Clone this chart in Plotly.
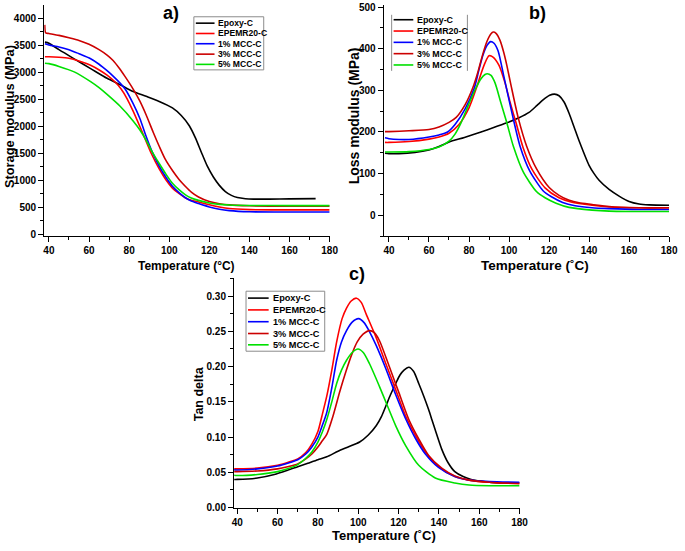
import plotly.graph_objects as go

names = ["Epoxy-C", "EPEMR20-C", "1% MCC-C", "3% MCC-C", "5% MCC-C"]
colors = ["#000000", "#ff0000", "#0000ff", "#cc0000", "#00e000"]

# ---------- Panel a: storage modulus (MPa) ----------
a_epoxy_T = [38, 40, 45, 52.6, 60.8, 69, 75.5, 82, 88.5, 95, 101.6, 106, 110, 113, 116, 119, 122, 125, 128, 131, 134, 138, 142, 150, 160, 173]
a_epoxy_V = [3560, 3540, 3420, 3250, 3070, 2890, 2770, 2645, 2555, 2460, 2340, 2200, 2010, 1790, 1520, 1260, 1060, 905, 790, 720, 680, 658, 650, 650, 655, 660]
a_epemr_T = [38, 40, 45, 50, 55, 60.8, 65.7, 69, 73, 76, 79, 82, 85.3, 88.5, 91, 95, 98.5, 101.6, 105, 108.1, 111, 114.6, 120, 125, 130, 140, 155, 180]
a_epemr_V = [3290, 3290, 3280, 3260, 3210, 3131, 3030, 2948, 2820, 2690, 2510, 2280, 2000, 1720, 1500, 1210, 1000, 855, 750, 672, 628, 598, 545, 505, 475, 456, 450, 450]
a_1mcc_T = [38, 40, 45, 50, 55, 60.8, 65, 69, 72, 75.5, 78, 82, 85.3, 88.5, 91, 95, 98.5, 101.6, 105, 108.1, 111, 114.6, 120, 125, 130, 140, 160, 180]
a_1mcc_V = [3530, 3507, 3470, 3420, 3345, 3252, 3150, 3030, 2930, 2800, 2690, 2420, 2150, 1810, 1570, 1260, 1045, 888, 765, 675, 615, 568, 505, 462, 437, 416, 410, 410]
a_3mcc_T = [37.9, 38.2, 38.6, 40, 45, 50, 55, 60, 65, 69, 72, 75, 78, 82, 85.3, 88.5, 92, 95, 98, 101.6, 105, 108.1, 111, 114.6, 120, 125, 130, 140, 150, 165, 180]
a_3mcc_V = [3880, 3745, 3730, 3720, 3685, 3640, 3590, 3520, 3420, 3320, 3220, 3080, 2920, 2690, 2470, 2210, 1890, 1630, 1390, 1180, 1010, 885, 780, 690, 605, 565, 543, 527, 521, 520, 520]
a_5mcc_T = [38, 40, 45, 52.6, 60.8, 65, 69, 75.5, 82, 85.3, 88.5, 91, 95, 98.5, 101.6, 105, 108.1, 111, 114.6, 120, 125, 130, 140, 160, 180]
a_5mcc_V = [3170, 3161, 3110, 3009, 2827, 2715, 2590, 2371, 2100, 1935, 1740, 1560, 1310, 1105, 945, 822, 730, 672, 627, 577, 552, 541, 533, 530, 530]

# ---------- Panel b: loss modulus (MPa) ----------
b_epoxy_T = [38, 40, 45, 53, 60, 65, 70, 77.7, 86, 92, 98.9, 105, 110, 114, 117, 120.3, 122.7, 125, 127.5, 130, 132.5, 135, 140, 142.5, 145, 150, 155, 160, 165, 170, 180]
b_epoxy_V = [149, 148, 148, 151, 157, 165, 176, 187, 200, 210, 222, 234, 247, 264, 277, 288, 291, 287, 272, 245, 212, 179, 120, 100, 84, 62, 46, 33, 27, 25, 24]
b_epemr_T = [38, 40, 50, 60, 65, 70, 75, 80, 84, 86, 88, 90, 92, 95, 98, 100.5, 103.5, 107, 111.5, 118, 125, 131, 141.5, 150, 165, 180]
b_epemr_V = [175, 175, 177, 183, 188, 197, 218, 258, 310, 340, 366, 383, 380, 360, 318, 272, 222, 163, 110, 66, 42, 32, 24, 20, 18, 18]
b_1mcc_T = [38, 40, 45, 50, 60, 65, 69.3, 73, 78, 82.6, 85, 87, 89, 90.8, 92.5, 94.5, 97.3, 99.5, 102.2, 105.5, 110.4, 117, 121, 126.8, 133, 141.5, 150, 165, 180]
b_1mcc_V = [186, 184, 182, 182, 188, 193, 200, 218, 255, 305, 350, 385, 408, 417, 413, 395, 336, 288, 230, 166, 106, 59, 45, 31, 23, 18, 16, 14, 14]
b_3mcc_T = [38, 40, 50, 60, 65, 70, 73.6, 78, 81.8, 84.5, 86.7, 89, 91, 92.1, 93.5, 95.5, 97.3, 98.9, 101, 104.6, 108.8, 113.7, 120.2, 125, 130.1, 135, 141.5, 150, 165, 180]
b_3mcc_V = [201, 201, 203, 206, 212, 223, 235, 265, 305, 345, 384, 418, 436, 440, 437, 420, 392, 360, 312, 234, 166, 112, 66, 48, 36, 30, 26, 21, 18, 18]
b_5mcc_T = [38, 40, 50, 60, 65, 70, 73, 76, 80, 83.4, 86, 88, 89.1, 91, 93, 95.7, 98.9, 102.2, 107.1, 113.7, 118, 123.5, 130, 141.5, 150, 165, 180]
b_5mcc_V = [152, 152, 153, 158, 164, 178, 195, 222, 268, 305, 328, 338, 340, 336, 318, 274, 222, 165, 104, 57, 42, 29, 19, 12.5, 10, 9, 9]

# ---------- Panel c: tan delta ----------
c_epoxy_T = [38, 40, 50, 58.4, 65, 70, 75, 80, 84.4, 90, 95, 100.7, 105, 108.9, 111.5, 113.7, 116, 118.6, 120.7, 122.7, 125.1, 127.5, 130, 132.5, 134.9, 136.5, 138.2, 141.4, 144.5, 147.9, 152, 156, 162, 170, 180]
c_epoxy_V = [0.040, 0.040, 0.042, 0.047, 0.053, 0.058, 0.063, 0.068, 0.072, 0.080, 0.086, 0.093, 0.103, 0.116, 0.129, 0.144, 0.160, 0.176, 0.188, 0.195, 0.199, 0.193, 0.176, 0.158, 0.139, 0.125, 0.110, 0.083, 0.064, 0.051, 0.044, 0.040, 0.037, 0.035, 0.035]
c_epemr_T = [38, 40, 50, 60, 65, 70, 74, 77, 80, 82, 84.4, 86.9, 89.3, 92, 94.2, 96.5, 99.1, 101.5, 104, 108.9, 113.7, 118.6, 123.5, 128.4, 133.3, 139.8, 147.9, 155, 165, 175, 180]
c_epemr_V = [0.055, 0.055, 0.056, 0.060, 0.064, 0.069, 0.078, 0.090, 0.108, 0.130, 0.158, 0.195, 0.235, 0.268, 0.283, 0.293, 0.297, 0.291, 0.274, 0.241, 0.204, 0.167, 0.130, 0.102, 0.079, 0.058, 0.044, 0.039, 0.036, 0.035, 0.035]
c_1mcc_T = [38, 40, 50, 60, 65, 70, 74, 77, 80, 82, 84.4, 86.9, 89.3, 91.7, 94.2, 97, 100.2, 103, 105.5, 108.9, 113.7, 118.6, 123.5, 128.4, 133.3, 139.8, 147.9, 155, 165, 180]
c_1mcc_V = [0.0535, 0.0534, 0.055, 0.059, 0.063, 0.068, 0.076, 0.086, 0.100, 0.115, 0.135, 0.170, 0.209, 0.235, 0.251, 0.263, 0.268, 0.262, 0.250, 0.230, 0.197, 0.160, 0.126, 0.098, 0.076, 0.057, 0.044, 0.039, 0.037, 0.036]
c_3mcc_T = [38, 40, 50, 60, 65, 70, 74, 77, 80, 82, 84.4, 87.5, 90.9, 93.9, 96.9, 99.5, 102.4, 105.6, 108, 110.5, 115.4, 120.3, 125.1, 130, 134.9, 141.4, 147.9, 155, 165, 180]
c_3mcc_V = [0.051, 0.051, 0.052, 0.055, 0.058, 0.062, 0.069, 0.076, 0.086, 0.094, 0.104, 0.130, 0.165, 0.193, 0.218, 0.235, 0.246, 0.251, 0.248, 0.237, 0.200, 0.162, 0.125, 0.0975, 0.074, 0.056, 0.045, 0.039, 0.036, 0.034]
c_5mcc_T = [38, 40, 50, 60, 65, 70, 74, 77, 80, 82.3, 84.4, 86.9, 89.3, 91.7, 94.2, 97, 99.9, 102.5, 105.6, 110.5, 114.1, 118.6, 123.5, 130, 138.2, 147.9, 155, 165, 180]
c_5mcc_V = [0.046, 0.0455, 0.047, 0.051, 0.055, 0.061, 0.070, 0.079, 0.093, 0.108, 0.125, 0.150, 0.176, 0.195, 0.209, 0.220, 0.225, 0.220, 0.204, 0.172, 0.147, 0.116, 0.088, 0.060, 0.042, 0.035, 0.032, 0.031, 0.031]

x_ticks = [40, 60, 80, 100, 120, 140, 160, 180]
a_yticks = [0, 500, 1000, 1500, 2000, 2500, 3000, 3500, 4000]
b_yticks = [0, 100, 200, 300, 400, 500]
c_yticks = [0.00, 0.05, 0.10, 0.15, 0.20, 0.25, 0.30]
c_yticklabels = ["0.00", "0.05", "0.10", "0.15", "0.20", "0.25", "0.30"]

panels = [
    ("x", "y", [(a_epoxy_T, a_epoxy_V), (a_epemr_T, a_epemr_V), (a_1mcc_T, a_1mcc_V), (a_3mcc_T, a_3mcc_V), (a_5mcc_T, a_5mcc_V)]),
    ("x2", "y2", [(b_epoxy_T, b_epoxy_V), (b_epemr_T, b_epemr_V), (b_1mcc_T, b_1mcc_V), (b_3mcc_T, b_3mcc_V), (b_5mcc_T, b_5mcc_V)]),
    ("x3", "y3", [(c_epoxy_T, c_epoxy_V), (c_epemr_T, c_epemr_V), (c_1mcc_T, c_1mcc_V), (c_3mcc_T, c_3mcc_V), (c_5mcc_T, c_5mcc_V)]),
]

fig = go.Figure()
for xa, ya, series in panels:
    for (t, v), name, col in zip(series, names, colors):
        fig.add_trace(go.Scatter(x=t, y=v, mode="lines", name=name, xaxis=xa, yaxis=ya,
                                 line=dict(color=col, width=1.6, shape="spline", smoothing=0.7),
                                 showlegend=False))

W, H = 685, 551
def px(x):
    return x / W
def py(y):
    return 1 - y / H

FONT = "Liberation Sans, Arial, sans-serif"
tickfont = dict(family=FONT, size=10, color="black", weight="bold")

def xaxis_cfg(dom, rng, anchor):
    return dict(domain=dom, range=rng, anchor=anchor, tickvals=x_ticks, showgrid=False, zeroline=False,
                showline=True, linecolor="black", linewidth=1.4, ticks="outside", ticklen=5, tickwidth=1.2,
                tickcolor="black", tickfont=tickfont, ticklabeloverflow="allow",
                minor=dict(dtick=10, tick0=40, ticks="outside", ticklen=3, tickwidth=1, tickcolor="black"))

def yaxis_cfg(dom, rng, anchor, vals, dt, labels=None):
    d = dict(domain=dom, range=rng, anchor=anchor, tickvals=vals, showgrid=False, zeroline=False,
             showline=True, linecolor="black", linewidth=1.4, ticks="outside", ticklen=5, tickwidth=1.2,
             tickcolor="black", tickfont=tickfont, ticklabeloverflow="allow",
             minor=dict(dtick=dt, tick0=0, ticks="outside", ticklen=3, tickwidth=1, tickcolor="black"))
    if labels:
        d["ticktext"] = labels
    return d

fig.update_layout(
    width=W, height=H, margin=dict(l=0, r=0, t=0, b=0),
    paper_bgcolor="white", plot_bgcolor="white",
    xaxis=xaxis_cfg([px(43), px(333)], [37.7, 180], "y"),
    yaxis=yaxis_cfg([py(237), py(2)], [-36, 4249], "x", a_yticks, 250),
    xaxis2=xaxis_cfg([px(388), px(678)], [37.4, 180], "y2"),
    yaxis2=yaxis_cfg([py(237), py(2)], [-50, 505], "x2", b_yticks, 50),
    xaxis3=xaxis_cfg([px(236), px(526)], [38.5, 180], "y3"),
    yaxis3=yaxis_cfg([py(513), py(280)], [0, 0.325], "x3", c_yticks, 0.025, c_yticklabels),
)

ann = []
def text(x, y, s, size, angle=0, xanchor="center", yanchor="middle"):
    ann.append(dict(x=px(x), y=py(y), xref="paper", yref="paper", text="<b>" + s + "</b>", showarrow=False,
                    textangle=angle, xanchor=xanchor, yanchor=yanchor,
                    font=dict(family=FONT, size=size, color="black")))

text(172, 10, "a)", 18)
text(544, 10, "b)", 18)
text(361, 275, "c)", 18)
text(188, 267, "Temperature (°C)", 12)
text(542, 267, "Temperature (˚C)", 13.5)
text(388, 551, "Temperature (˚C)", 13, yanchor="bottom")
text(7, 115, "Storage modulus (MPa)", 12.8, angle=-90)
text(358, 115, "Loss modulus (MPa)", 14, angle=-90)
text(200, 397, "Tan delta", 12.5, angle=-90)

shapes = []
# legends: box x0, x1, y0, y1, sample x0, x1, text x, row centres, font size, border style
legends = [
    (195, 266, 14, 68, 197, 216, 218, [20.5, 31, 41.4, 52, 62.4], 8.6, "box"),
    (396, 473, 12, 69, 398, 418, 420, [17, 28.5, 40, 51.5, 63], 8.9, "sides"),
    (248, 328, 293, 354, 250, 271, 273, [300, 312, 324, 336, 347.5], 9.2, "box"),
]
for bx0, bx1, by0, by1, lx0, lx1, tx, rows, fs, border in legends:
    if border == "box":
        shapes.append(dict(type="rect", xref="paper", yref="paper", x0=px(bx0), x1=px(bx1), y0=py(by1), y1=py(by0),
                           line=dict(color="#8c8c8c", width=1), fillcolor="rgba(255,255,255,0)"))
    else:
        for xx in (bx0, bx1):
            shapes.append(dict(type="line", xref="paper", yref="paper", x0=px(xx), x1=px(xx), y0=py(by1), y1=py(by0),
                               line=dict(color="#8c8c8c", width=1)))
    for ry, name, col in zip(rows, names, colors):
        shapes.append(dict(type="line", xref="paper", yref="paper", x0=px(lx0), x1=px(lx1), y0=py(ry), y1=py(ry),
                           line=dict(color=col, width=1.6)))
        text(tx, ry, name, fs, xanchor="left")

fig.update_layout(annotations=ann, shapes=shapes)
fig.write_html("out.html", config={"displayModeBar": False},
               post_script="document.body.style.margin='0px';document.body.style.overflow='hidden';")
